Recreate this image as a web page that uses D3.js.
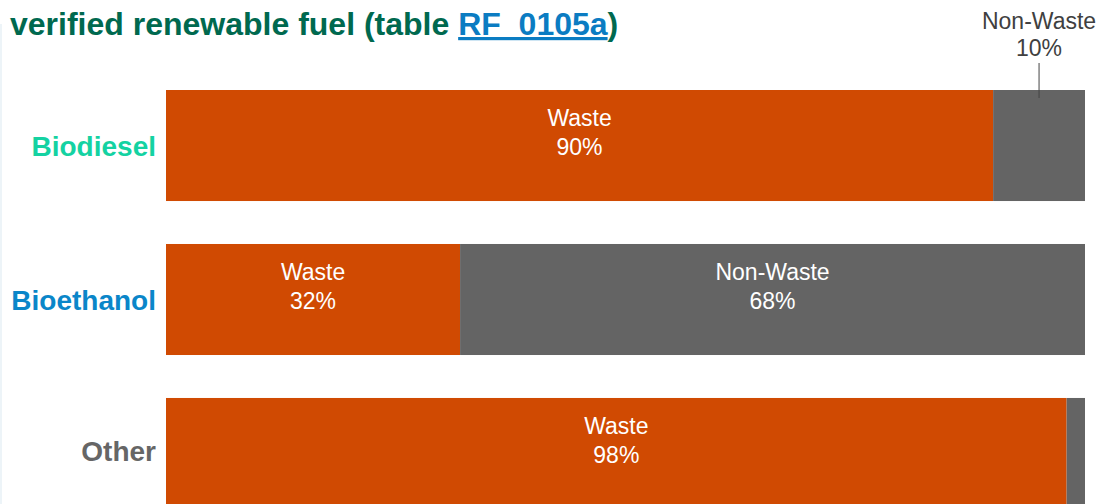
<!DOCTYPE html>
<html>
<head>
<meta charset="utf-8">
<script src="https://cdn.jsdelivr.net/npm/d3@7"></script>
<style>
  body { margin: 0; background: #fff; }
  svg { display: block; font-family: "Liberation Sans", Arial, sans-serif; }
</style>
</head>
<body>
<div id="graph"></div>
<script>
//data
var categories = ["Biodiesel", "Bioethanol", "Other"];
var waste = [90, 32, 98];
var nonWaste = [10, 68, 2];
var seriesNames = ["Waste", "Non-Waste"];
var catColors = ["#14d2a2", "#0a86c9", "#666666"];
var seriesColors = ["#d04a02", "#646464"];

//measurements
var width = 1116;
var height = 504;
var margin = { top: 90, right: 31, bottom: -5, left: 166 };

var chart;

init();

function init() {
    chart = d3.select("#graph").append("svg")
        .attr("width", width)
        .attr("height", height);

    // faint strip on left edge
    chart.append("rect")
        .attr("x", 0).attr("y", 24)
        .attr("width", 2).attr("height", height - 24)
        .style("fill", "#edf4f8");

    drawTitle();
    createScales();
    drawBars();
    drawCategoryLabels();
}

function drawTitle() {
    var t = chart.append("text")
        .attr("x", 10)
        .attr("y", 35)
        .style("font-size", "32px")
        .style("font-weight", "bold")
        .style("fill", "#00694f");
    t.append("tspan").text("verified renewable fuel (table ");
    t.append("tspan").text("RF_0105a")
        .style("fill", "#0b7cc2")
        .style("text-decoration", "underline");
    t.append("tspan").text(")");
}

function createScales() {
    chart.xScale = d3.scaleLinear()
        .domain([0, 100])
        .range([margin.left, width - margin.right]);

    chart.yScale = d3.scaleBand()
        .domain(categories)
        .range([margin.top, height - margin.bottom])
        .paddingInner(0.279)
        .paddingOuter(0);
}

function drawBars() {
    var rows = categories.map(function (c, i) {
        return { cat: c, values: [waste[i], nonWaste[i]] };
    });

    var segs = [];
    rows.forEach(function (r) {
        var x0 = 0;
        r.values.forEach(function (v, j) {
            segs.push({ cat: r.cat, series: j, x0: x0, x1: x0 + v, value: v });
            x0 += v;
        });
    });

    var x = chart.xScale, y = chart.yScale;

    chart.selectAll(".seg")
        .data(segs)
        .enter().append("rect")
          .attr("class", "seg")
          .attr("x", function (d) { return x(d.x0); })
          .attr("y", function (d) { return y(d.cat); })
          .attr("width", function (d) { return x(d.x1) - x(d.x0); })
          .attr("height", y.bandwidth())
          .style("fill", function (d) { return seriesColors[d.series]; });

    // labels inside wide segments
    var inside = segs.filter(function (d) { return d.value >= 20; });
    var lbl = chart.selectAll(".seglabel")
        .data(inside)
        .enter().append("text")
          .attr("class", "seglabel")
          .attr("text-anchor", "middle")
          .style("font-size", "23px")
          .style("fill", "#ffffff")
          .attr("transform", function (d) {
              return "translate(" + ((x(d.x0) + x(d.x1)) / 2) + "," + (y(d.cat) + 36) + ")";
          });
    lbl.append("tspan").attr("x", 0).attr("y", 0)
        .text(function (d) { return seriesNames[d.series]; });
    lbl.append("tspan").attr("x", 0).attr("y", 29)
        .text(function (d) { return d.value + "%"; });

    // labels above narrow segments with leader line
    var outside = segs.filter(function (d) { return d.value < 20 && d.value >= 5; });
    var out = chart.selectAll(".outlabel")
        .data(outside)
        .enter().append("g")
          .attr("class", "outlabel")
          .attr("transform", function (d) {
              return "translate(" + ((x(d.x0) + x(d.x1)) / 2) + "," + y(d.cat) + ")";
          });
    out.append("line")
        .attr("x1", 0).attr("x2", 0)
        .attr("y1", -27).attr("y2", 8)
        .style("stroke", "#444")
        .style("stroke-width", 1);
    var ot = out.append("text")
        .attr("text-anchor", "middle")
        .style("font-size", "23px")
        .style("fill", "#404040");
    ot.append("tspan").attr("x", 0).attr("y", -61)
        .text(function (d) { return seriesNames[d.series]; });
    ot.append("tspan").attr("x", 0).attr("y", -34)
        .text(function (d) { return d.value + "%"; });
}

function drawCategoryLabels() {
    var y = chart.yScale;
    // centre each label on the visible part of its bar
    chart.selectAll(".cat")
        .data(categories)
        .enter().append("text")
          .attr("class", "cat")
          .attr("text-anchor", "end")
          .attr("x", margin.left - 10)
          .attr("y", function (d) {
              var top = y(d), bottom = Math.min(y(d) + y.bandwidth(), height);
              return (top + bottom) / 2;
          })
          .attr("dy", "0.36em")
          .style("font-size", "28px")
          .style("font-weight", "bold")
          .style("fill", function (d, i) { return catColors[i]; })
          .text(function (d) { return d; });
}
</script>
</body>
</html>
